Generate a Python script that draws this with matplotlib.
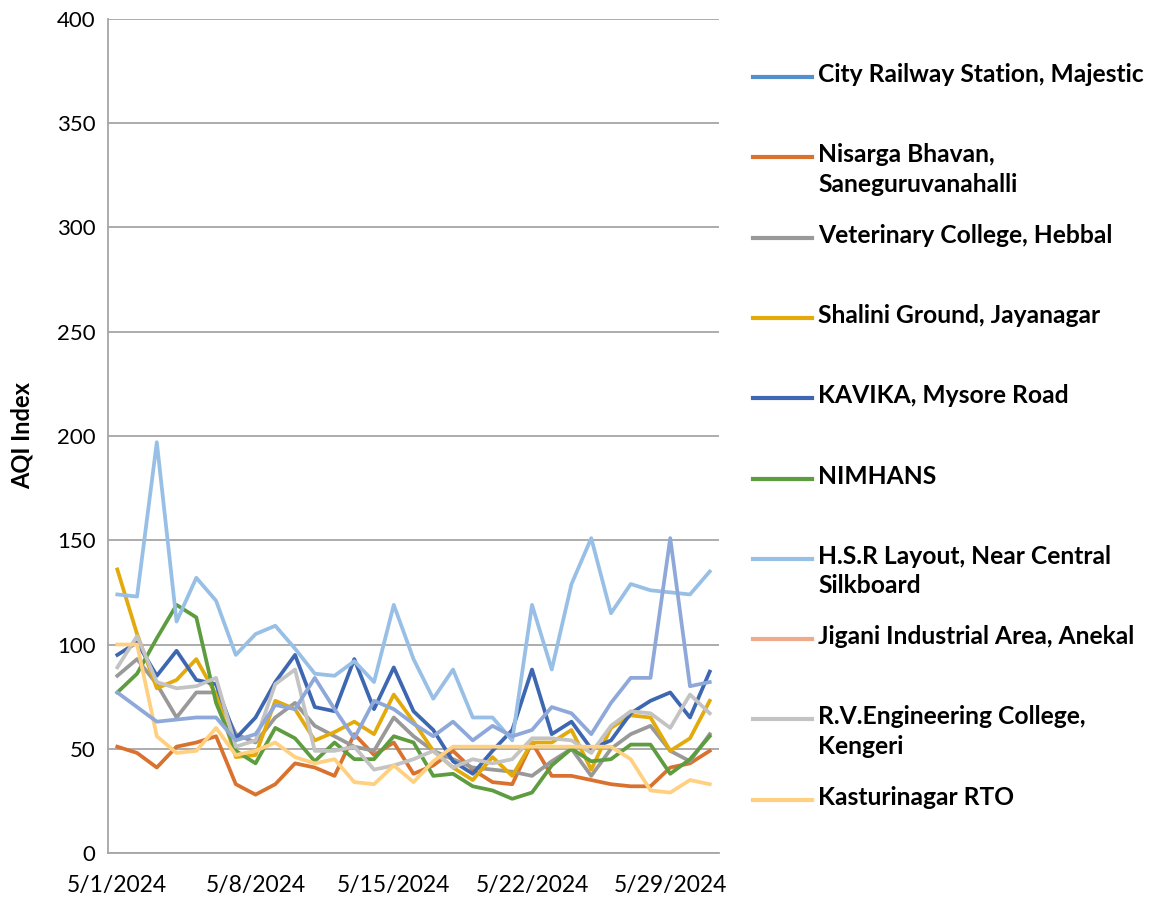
import numpy as np
import pandas as pd
import matplotlib
matplotlib.use('Agg')
from matplotlib import pyplot as plt
from matplotlib.lines import Line2D

plt.rcParams['font.family'] = ['Lato', 'DejaVu Sans']

dates = pd.date_range('2024-05-01', '2024-05-31', freq='D')

# AQI readings per station; empty = no data drawn
city_railway = []
nisarga = [51, 48, 41, 51, 53, 56, 33, 28, 33, 43, 41, 37, 57, 47, 53, 38, 42, 49, 40, 34,
           33, 53, 37, 37, 35, 33, 32, 32, 41, 43, 49]
veterinary = [85, 93, 81, 65, 77, 77, 57, 53, 65, 72, 61, 56, 51, 49, 65, 56, 49, 45, 41, 40,
              39, 37, 44, 50, 37, 50, 57, 61, 49, 44, 57]
shalini = [136, 105, 79, 83, 93, 76, 46, 47, 73, 69, 54, 58, 63, 57, 76, 63, 49, 41, 35, 46,
           37, 53, 53, 59, 40, 60, 66, 65, 49, 55, 73]
kavika = [95, 101, 85, 97, 83, 81, 55, 65, 82, 95, 70, 68, 93, 69, 89, 68, 59, 44, 38, 49,
          59, 88, 57, 63, 50, 54, 67, 73, 77, 65, 87]
nimhans = [77, 86, 103, 119, 113, 72, 49, 43, 60, 55, 44, 53, 45, 45, 56, 53, 37, 38, 32, 30,
           26, 29, 42, 50, 44, 45, 52, 52, 38, 45, 56]
hsr = [124, 123, 197, 111, 132, 121, 95, 105, 109, 98, 86, 85, 92, 82, 119, 93, 74, 88, 65, 65,
       54, 119, 88, 129, 151, 115, 129, 126, 125, 124, 135]
jigani = []
rv_college = [89, 104, 82, 79, 80, 84, 51, 54, 81, 88, 49, 49, 51, 40, 42, 45, 49, 41, 45, 43,
              45, 55, 55, 54, 48, 61, 68, 67, 60, 76, 67]
kasturinagar = [100, 100, 56, 48, 49, 60, 47, 49, 53, 46, 43, 45, 34, 33, 42, 34, 44, 51, 51, 51,
                51, 51, 51, 51, 51, 51, 45, 30, 29, 35, 33]
series_11 = [77, 70, 63, 64, 65, 65, 54, 57, 71, 69, 84, 69, 55, 73, 69, 62, 56, 63, 54, 61,
             56, 59, 70, 67, 57, 72, 84, 84, 151, 80, 82]

names = ['City Railway Station, Majestic', 'Nisarga Bhavan,\nSaneguruvanahalli',
         'Veterinary College, Hebbal', 'Shalini Ground, Jayanagar', 'KAVIKA, Mysore Road',
         'NIMHANS', 'H.S.R Layout, Near Central\nSilkboard', 'Jigani Industrial Area, Anekal',
         'R.V.Engineering College,\nKengeri', 'Kasturinagar RTO']
values = [city_railway, nisarga, veterinary, shalini, kavika, nimhans, hsr, jigani,
          rv_college, kasturinagar]
colors = ['#5590CC', '#D9722E', '#999999', '#E3AA0C', '#3E67B1', '#5E9C40',
          '#98BFE5', '#F0A98A', '#C3C3C3', '#FFD080']

fig = plt.figure(figsize=(11.53, 9.02), dpi=100)
ax = fig.add_axes([0.0937, 0.0543, 0.5299, 0.9247])

x = np.arange(len(dates))
for vals, c, n in zip(values, colors, names):
    ax.plot(x[:len(vals)], vals, color=c, lw=2.7, label=n)
ax.plot(x, series_11, color='#8EA8DA', lw=2.7, label='_nolegend_')

ax.set_xlim(-0.47, len(dates) - 0.53)
ax.set_ylim(0, 400)
ax.set_yticks(np.arange(0, 401, 50))
ax.set_xticks(x[::7])
ax.set_xticklabels([f'{d.month}/{d.day}/{d.year}' for d in dates[::7]])
ax.tick_params(axis='x', length=0, labelsize=16.5, pad=16)
ax.tick_params(axis='y', length=0, labelsize=16, pad=9)
ax.grid(axis='y', color='#A6A6A6', lw=1.3)
ax.set_axisbelow(True)
for s in ['top', 'right']:
    ax.spines[s].set_visible(False)
for s in ['left', 'bottom']:
    ax.spines[s].set_color('#A6A6A6')
    ax.spines[s].set_linewidth(1.3)
ax.set_ylabel('AQI Index', fontsize=17, fontweight='bold', labelpad=17)

# legend laid out like Excel: equal slots, line beside first text row
W, H = 1153, 902
for i, (n, c) in enumerate(zip(names, colors)):
    yy = 1 - (77 + i * 80.3) / H
    fig.add_artist(Line2D([753 / W, 812 / W], [yy, yy], color=c, lw=3))
    fig.text(818 / W, yy + 14 / H, n, fontsize=17.7, fontweight='bold', va='top',
             ha='left', linespacing=1.35)

fig.savefig('out.png', dpi=100)
